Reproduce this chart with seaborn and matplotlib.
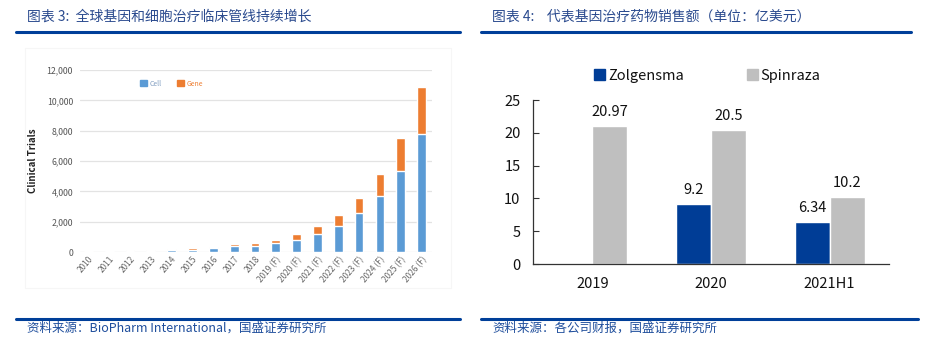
import pandas as pd
import matplotlib.pyplot as plt
import seaborn as sns
from matplotlib.lines import Line2D
from matplotlib.patches import Patch, Rectangle

# === DATA ===
years = ["2010", "2011", "2012", "2013", "2014", "2015", "2016", "2017", "2018",
         "2019 (F)", "2020 (F)", "2021 (F)", "2022 (F)", "2023 (F)", "2024 (F)",
         "2025 (F)", "2026 (F)"]
cell_trials = [30, 40, 60, 90, 100, 150, 250, 380, 400, 590, 790, 1180, 1700,
               2570, 3700, 5330, 7800]
gene_trials = [20, 20, 40, 60, 80, 100, 100, 150, 190, 200, 390, 520, 730,
               980, 1430, 2170, 3100]

periods = ["2019", "2020", "2021H1"]
zolgensma = [None, 9.2, 6.34]
spinraza = [20.97, 20.5, 10.2]

BLUE_CELL = "#5b9bd5"
ORANGE_GENE = "#ed7d31"
NAVY = "#003d96"
GREY = "#bfbfbf"
HEAD_BLUE = "#2a4a8e"

# === STYLE ===
sns.set_theme(style="white")
plt.rcParams["font.family"] = ["Noto Sans CJK SC", "DejaVu Sans"]

W, H = 925, 357
fig = plt.figure(figsize=(W / 100, H / 100), dpi=100)


def px_axes(x0, y_top, x1, y_bot):
    return fig.add_axes([x0 / W, 1 - y_bot / H, (x1 - x0) / W, (y_bot - y_top) / H])


# === HEADERS / FOOTERS ===
fig.text(27 / W, 1 - 17 / H, "图表 3:  全球基因和细胞治疗临床管线持续增长",
         fontsize=10, color=HEAD_BLUE, va="center", style="italic")
fig.text(492 / W, 1 - 17 / H, "图表 4:    代表基因治疗药物销售额（单位：亿美元）",
         fontsize=10, color=HEAD_BLUE, va="center", style="italic")
fig.text(27 / W, 1 - 328 / H, "资料来源：BioPharm International，国盛证券研究所",
         fontsize=9, color="#1f4e9c", va="center", style="italic")
fig.text(492 / W, 1 - 328 / H, "资料来源：各公司财报，国盛证券研究所",
         fontsize=9, color="#1f4e9c", va="center", style="italic")
for (x0, x1) in [(16, 460), (481, 911)]:
    fig.add_artist(Line2D([x0 / W, x1 / W], [1 - 32 / H] * 2, color="#003f99", lw=2.2))
for (x0, x1) in [(16, 460), (481, 918)]:
    fig.add_artist(Line2D([x0 / W, x1 / W], [1 - 319 / H] * 2, color="#003f99", lw=2.2))

# faint frame of the embedded left chart
fig.add_artist(Rectangle((25 / W, 1 - 288 / H), 426 / W, 240 / H,
                         transform=fig.transFigure, fill=False, ec="#f6f6f6", lw=0.8))

# === LEFT: stacked clinical trials ===
df_left = pd.DataFrame({"year": years, "cell": cell_trials, "gene": gene_trials})
df_left["total"] = df_left["cell"] + df_left["gene"]

ax1 = px_axes(80, 70, 432, 252)
sns.barplot(data=df_left, x="year", y="total", color=ORANGE_GENE, width=0.42,
            saturation=1, ax=ax1)
sns.barplot(data=df_left, x="year", y="cell", color=BLUE_CELL, width=0.42,
            saturation=1, ax=ax1)
ax1.set_ylim(0, 12000)
ax1.set_xlim(-0.4, len(years) - 0.5)
ax1.set_yticks(range(0, 12001, 2000))
ax1.set_yticklabels([f"{v:,}" for v in range(0, 12001, 2000)])
ax1.yaxis.grid(True, color="#e3e3e3", lw=0.9)
ax1.set_axisbelow(True)
for s in ax1.spines.values():
    s.set_visible(False)
ax1.tick_params(axis="y", labelsize=6.3, labelcolor="#555555", length=0, pad=5)
ax1.tick_params(axis="x", labelsize=6, labelcolor="#666666", length=0, pad=2)
for lbl in ax1.get_xticklabels():
    lbl.set_rotation(50)
    lbl.set_ha("right")
    lbl.set_rotation_mode("anchor")
ax1.set_xlabel("")
ax1.set_ylabel("Clinical Trials", fontsize=7, fontweight="bold", color="#222222",
               labelpad=6)
leg1 = ax1.legend(handles=[Patch(color=BLUE_CELL, label="Cell"),
                           Patch(color=ORANGE_GENE, label="Gene")],
                  loc="center", bbox_to_anchor=(0.26, 0.925), ncol=2, frameon=False,
                  fontsize=5, handlelength=1.0, handleheight=1.0,
                  handletextpad=0.4, columnspacing=2.2)
for txt, c in zip(leg1.get_texts(), ["#7f9cc0", ORANGE_GENE]):
    txt.set_color(c)

# === RIGHT: gene therapy sales ===
rows = []
for p, z, s in zip(periods, zolgensma, spinraza):
    if z is not None:
        rows.append({"period": p, "drug": "Zolgensma", "sales": z})
    rows.append({"period": p, "drug": "Spinraza", "sales": s})
df_right = pd.DataFrame(rows)

ax2 = px_axes(533, 100, 889, 264)
sns.barplot(data=df_right, x="period", y="sales", hue="drug",
            order=periods, hue_order=["Zolgensma", "Spinraza"],
            palette={"Zolgensma": NAVY, "Spinraza": GREY},
            width=0.59, gap=0, saturation=1, ax=ax2, legend=False)
for cont in ax2.containers:
    ax2.bar_label(cont, fmt="{:g}", padding=5, fontsize=10.5, color="#111111")
ax2.set_ylim(0, 25)
ax2.set_xlim(-0.5, 2.5)
ax2.set_yticks(range(0, 26, 5))
ax2.set_xticks([0.5, 1.5], minor=True)
ax2.tick_params(axis="x", which="major", length=0, pad=9, labelsize=10.5,
                labelcolor="#111111")
ax2.tick_params(axis="x", which="minor", direction="in", length=5, width=0.8,
                color="#333333")
ax2.tick_params(axis="y", direction="in", length=4, width=0.8, color="#333333",
                pad=9, labelsize=10.5, left=True, labelcolor="#111111")
ax2.spines["top"].set_visible(False)
ax2.spines["right"].set_visible(False)
for s in ["left", "bottom"]:
    ax2.spines[s].set_color("#333333")
    ax2.spines[s].set_linewidth(0.9)
ax2.set_xlabel("")
ax2.set_ylabel("")
ax2.grid(False)
leg2 = ax2.legend(handles=[Patch(color=NAVY, label="Zolgensma"),
                           Patch(color=GREY, label="Spinraza")],
                  loc="center", bbox_to_anchor=(0.49, 1.148), ncol=2, frameon=False,
                  fontsize=10.5, handlelength=0.75, handleheight=0.75,
                  handletextpad=0.2, columnspacing=4.3)
for txt in leg2.get_texts():
    txt.set_color("#111111")

fig.savefig("out.png", dpi=100, facecolor="white")
